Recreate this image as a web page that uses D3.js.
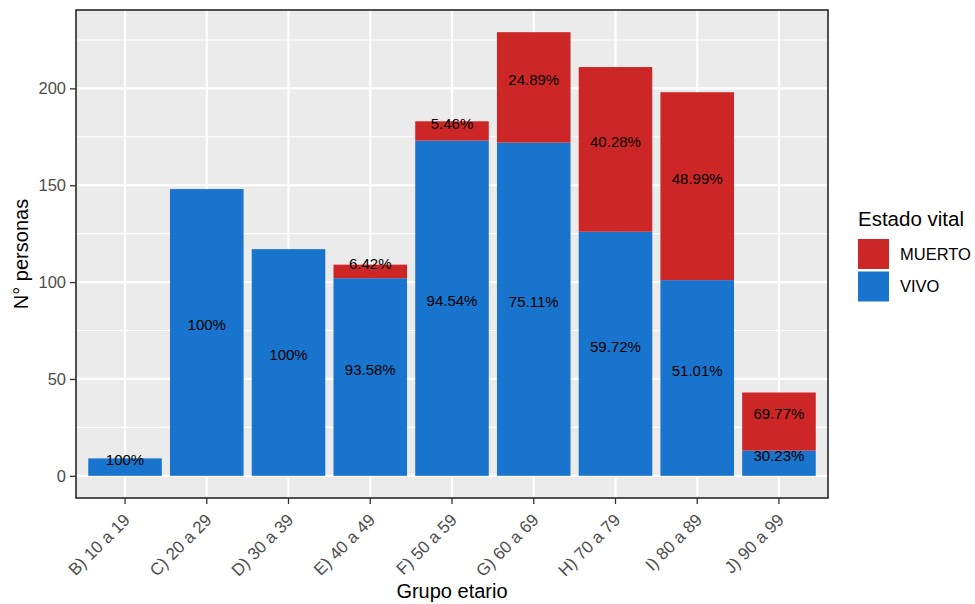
<!DOCTYPE html>
<html><head><meta charset="utf-8">
<script src="https://cdn.jsdelivr.net/npm/d3@7"></script>
<style>body{margin:0;background:#fff}svg{display:block;font-family:"Liberation Sans",Arial,sans-serif}</style>
</head><body><svg id="c" width="975" height="604"></svg>
<script>
const categories = ["B) 10 a 19","C) 20 a 29","D) 30 a 39","E) 40 a 49","F) 50 a 59","G) 60 a 69","H) 70 a 79","I) 80 a 89","J) 90 a 99"];
const vivo   = [9, 148, 117, 102, 173, 172, 126, 101, 13];
const muerto = [0, 0, 0, 7, 10, 57, 85, 97, 30];
const seriesNames = ["VIVO", "MUERTO"];
const seriesColors = ["#1874CD", "#CD2626"];
const yTicks = [0, 50, 100, 150, 200];
const yMinor = [25, 75, 125, 175, 225];
const legendOrder = ["MUERTO", "VIVO"];

const svg = d3.select("#c");
const L = 76, R = 828, T = 10, B = 498;
const totals = vivo.map((v, i) => v + muerto[i]);
const maxT = d3.max(totals);
const y = d3.scaleLinear().domain([-maxT * 0.05, maxT * 1.05]).range([B, T]);
const x = d3.scaleBand().domain(categories).range([L, R]).paddingInner(0.1).paddingOuter(0.15);

// panel
svg.append("rect").attr("x", L).attr("y", T).attr("width", R - L).attr("height", B - T).attr("fill", "#EBEBEB");
const g = svg.append("g");
yMinor.forEach(t => g.append("line").attr("x1", L).attr("x2", R).attr("y1", y(t)).attr("y2", y(t)).attr("stroke", "#fff").attr("stroke-width", 1.1));
yTicks.forEach(t => g.append("line").attr("x1", L).attr("x2", R).attr("y1", y(t)).attr("y2", y(t)).attr("stroke", "#fff").attr("stroke-width", 2.2));
categories.forEach(c => {
  const cx = x(c) + x.bandwidth() / 2;
  g.append("line").attr("x1", cx).attr("x2", cx).attr("y1", T).attr("y2", B).attr("stroke", "#fff").attr("stroke-width", 2.2);
});

// stacked bars
const data = categories.map((c, i) => ({cat: c, VIVO: vivo[i], MUERTO: muerto[i], total: totals[i]}));
const stack = d3.stack().keys(seriesNames)(data);
const color = d3.scaleOrdinal().domain(seriesNames).range(seriesColors);
stack.forEach(layer => {
  svg.append("g").selectAll("rect").data(layer.filter(d => d[1] > d[0])).join("rect")
    .attr("x", d => x(d.data.cat)).attr("width", x.bandwidth())
    .attr("y", d => y(d[1])).attr("height", d => y(d[0]) - y(d[1]))
    .attr("fill", color(layer.key));
});
// labels
stack.forEach(layer => {
  svg.append("g").selectAll("text").data(layer.filter(d => d[1] > d[0])).join("text")
    .attr("x", d => x(d.data.cat) + x.bandwidth() / 2)
    .attr("y", d => y((d[0] + d[1]) / 2) - 7.5)
    .attr("dy", "0.35em").attr("text-anchor", "middle")
    .attr("font-size", 15).attr("fill", "#000")
    .text(d => `${+((d[1] - d[0]) / d.data.total * 100).toFixed(2)}%`);
});

// border
svg.append("rect").attr("x", L).attr("y", T).attr("width", R - L).attr("height", B - T)
  .attr("fill", "none").attr("stroke", "#1a1a1a").attr("stroke-width", 1.5);

// y axis
const yAxis = svg.append("g").attr("transform", `translate(${L},0)`)
  .call(d3.axisLeft(y).tickValues(yTicks).tickSize(6).tickPadding(4));
yAxis.select(".domain").remove();
yAxis.selectAll("line").attr("stroke", "#333").attr("stroke-width", 1.3);
yAxis.selectAll("text").attr("font-size", 16.5).attr("fill", "#4D4D4D").attr("font-family", "Liberation Sans, Arial, sans-serif");

// x axis
const xAxis = svg.append("g").attr("transform", `translate(0,${B})`)
  .call(d3.axisBottom(x).tickSize(6).tickPadding(0));
xAxis.select(".domain").remove();
xAxis.selectAll("line").attr("stroke", "#333").attr("stroke-width", 1.3);
xAxis.selectAll("text").attr("font-size", 17).attr("fill", "#4D4D4D")
  .attr("font-family", "Liberation Sans, Arial, sans-serif")
  .attr("text-anchor", "end").attr("dy", null).attr("y", null)
  .attr("transform", "translate(6,23) rotate(-45)");

// axis titles
svg.append("text").attr("x", (L + R) / 2).attr("y", 598).attr("text-anchor", "middle")
  .attr("font-size", 20).attr("fill", "#000").text("Grupo etario");
svg.append("text").attr("transform", `translate(28,${(T + B) / 2}) rotate(-90)`).attr("text-anchor", "middle")
  .attr("font-size", 20).attr("fill", "#000").text("N° personas");

// legend
const lg = svg.append("g");
lg.append("text").attr("x", 858).attr("y", 226).attr("font-size", 20.5).attr("fill", "#000").text("Estado vital");
legendOrder.forEach((k, i) => {
  const ky = 239 + i * 32.5;
  lg.append("rect").attr("x", 858).attr("y", ky).attr("width", 31).attr("height", 30).attr("fill", color(k));
  lg.append("text").attr("x", 900).attr("y", ky + 15).attr("dy", "0.35em").attr("font-size", 16.5).attr("fill", "#000").text(k);
});
</script></body></html>
